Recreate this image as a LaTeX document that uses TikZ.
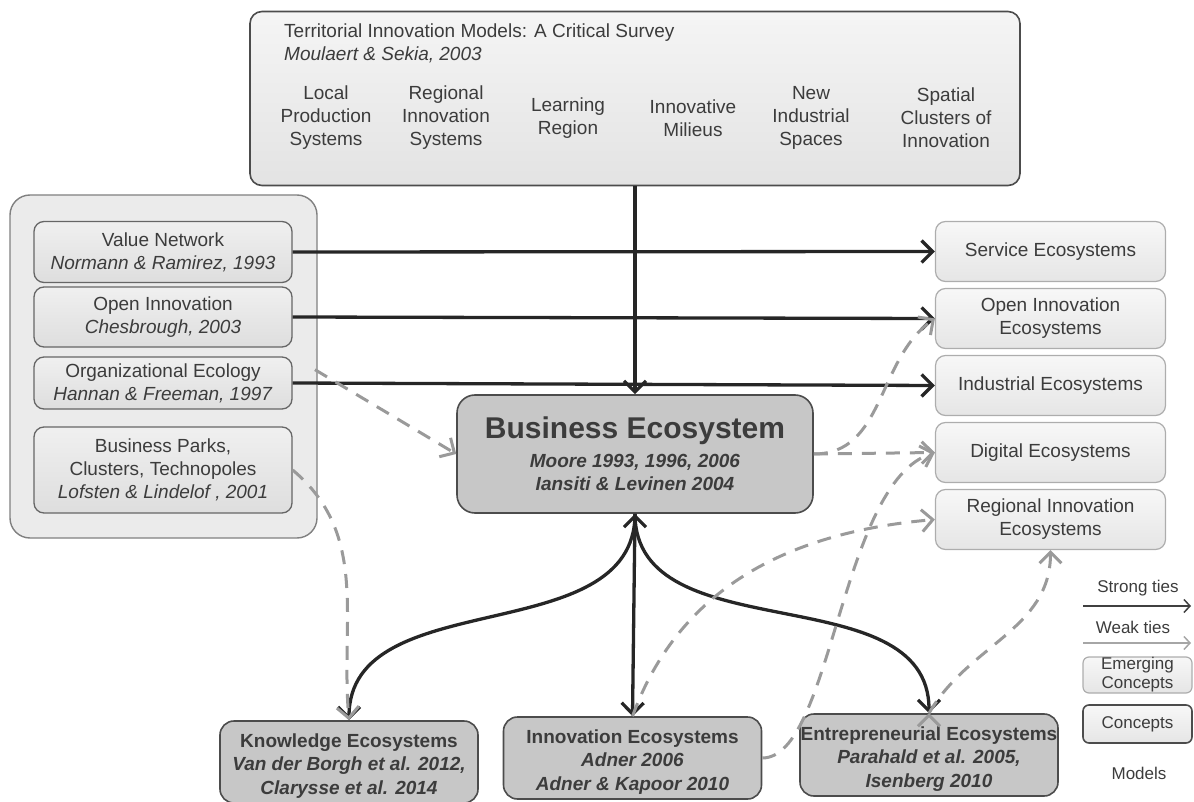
\documentclass[tikz,border=0pt]{standalone}
\usepackage{fontspec}
\setmainfont{Liberation Sans}
\usepackage{tikz}
\usetikzlibrary{arrows.meta, shapes}
\definecolor{txtgray}{HTML}{3C3C3C}
\definecolor{tiegray}{HTML}{9A9A9A}
\definecolor{tieblack}{HTML}{262626}
\tikzset{model/.style={rectangle, draw=black!70, top color=black!4, bottom color=black!11, rounded corners=12pt, line width=1.6pt}}
\tikzset{group/.style={rectangle, draw=black!50, fill=black!8, rounded corners=20pt, line width=1.4pt}}
\tikzset{theory/.style={rectangle, draw=black!60, top color=black!6, bottom color=black!13, rounded corners=10pt, line width=1.3pt, minimum width=258pt, align=center, inner sep=0pt}}
\tikzset{emerging/.style={rectangle, draw=black!32, top color=black!3, bottom color=black!10, rounded corners=10pt, line width=1.2pt, minimum width=230pt, minimum height=60pt, align=center, inner sep=0pt}}
\tikzset{concept/.style={rectangle, draw=black!70, fill=black!22, rounded corners=14pt, line width=1.6pt, minimum width=258pt, minimum height=82pt, align=center, inner sep=0pt, font=\fontsize{19}{23.5}\selectfont\bfseries}}
\tikzset{column/.style={align=center, inner sep=0pt}}
\tikzset{strong/.style={->, line width=3.3pt, draw=tieblack}}
\tikzset{weak/.style={->, line width=3pt, draw=tiegray, dash pattern=on 14pt off 10pt}}

\begin{document}
\begin{tikzpicture}[
	x=1pt, y=-1pt,
	>={Straight Barb[length=11pt,width=22pt]},
	node distance=67pt,
	every node/.style={text=txtgray, font=\fontsize{19}{23}\selectfont},
	]
	\useasboundingbox (0,0) rectangle (1194,802);

	% territorial innovation models
	\node [model, minimum width=770pt, minimum height=174pt] (TIM) at (635,98.5) {};
	\node [column, anchor=west, align=left] (TIMhead) at (284,43) {Territorial Innovation Models: A Critical Survey\\\textit{Moulaert \& Sekia, 2003}};
	\node [column] (LPS) at (326,118) {Local\\Production\\Systems};
	\node [column] (RIS) at (446,118) {Regional\\Innovation\\Systems};
	\node [column] (LR)  at (568,118) {Learning\\Region};
	\node [column] (IM)  at (693,118) {Innovative\\Milieus};
	\node [column] (NIS) at (811,118) {New\\Industrial\\Spaces};
	\node [column] (SCI) at (946,118) {Spatial\\Clusters of\\Innovation};

	% models on the left
	\node [group, minimum width=307pt, minimum height=343pt] (LEFT) at (163.5,366.5) {};
	\node [theory, minimum height=61pt] (VN) at (163,252) {Value Network\\\textit{Normann \& Ramirez, 1993}};
	\node [theory, minimum height=60pt] (OI) at (163,317) {Open Innovation\\\textit{Chesbrough, 2003}};
	\node [theory, minimum height=52pt] (OE) at (163,383) {Organizational Ecology\\\textit{Hannan \& Freeman, 1997}};
	\node [theory, minimum height=86pt] (BP) at (163,470) {Business Parks,\\Clusters, Technopoles\\\textit{Lofsten \& Lindelof , 2001}};

	\node [concept, minimum width=356pt, minimum height=118pt, rounded corners=18pt] (BE) at (635,454) {{\fontsize{30}{32}\selectfont Business Ecosystem}\\[5pt]\textit{Moore 1993, 1996, 2006}\\\textit{Iansiti \& Levinen 2004}};

	% emerging concepts
	\node [emerging] (SE) at (1050.5,251.5) {Service Ecosystems};
	\node [emerging] (OIE) [below of=SE] {Open Innovation\\Ecosystems};
	\node [emerging] (IndE) [below of=OIE] {Industrial Ecosystems};
	\node [emerging] (DE) [below of=IndE] {Digital Ecosystems};
	\node [emerging] (RIE) [below of=DE] {Regional Innovation\\Ecosystems};

	\node [concept, text height=68pt] (KE) at (349,762) {Knowledge Ecosystems\\\textit{Van der Borgh et al. 2012,}\\\textit{Clarysse et al. 2014}};
	\node [concept, text height=68pt] (IE) at (632.5,758) {Innovation Ecosystems\\\textit{Adner 2006}\\\textit{Adner \& Kapoor 2010}};
	\node [concept, text height=68pt] (EE) at (929,755) {Entrepreneurial Ecosystems\\\textit{Parahald et al. 2005,}\\\textit{Isenberg 2010}};

	\path[strong]
	(TIM) edge (BE)
	(VN.east) edge (SE.west)
	(OI.east) edge (OIE.west)
	(OE.east) edge (IndE.west)
	(BE.south) edge[out=-90,in=90] (KE.north)
	(BE.south) edge (IE.north)
	(BE.south) edge[out=-90,in=90] (EE.north);

	\path[weak]
	(OE.north east) edge[shorten <=26pt] (BE.west)
	(BP.east) edge[out=-40,in=95] (KE.north)
	(BE.east) edge (DE.west)
	(BE.east) edge[out=0,in=215] (OIE.west)
	(IE.north) edge[out=70,in=185] (RIE.west)
	(EE.north) edge[out=60,in=-90] (RIE.south);
	\draw[weak] (IE.east) .. controls +(70,0) and +(-95,30) .. (DE.west);

	% legend
	\node [font=\fontsize{17}{20}\selectfont] (strongtxt) at (1138,588) {Strong ties};
	\coordinate (s1) at (1083,606);
	\coordinate (s2) at (1191,606);
	\node [font=\fontsize{17}{20}\selectfont] (weaktxt) at (1133,627) {Weak ties};
	\coordinate (w1) at (1083,643);
	\coordinate (w2) at (1191,643);
	\draw[strong, line width=1.5pt, draw=black!75, >={Straight Barb[length=6pt,width=13pt]}] (s1) -- (s2);
	\draw[->, line width=1.5pt, draw=black!35, >={Straight Barb[length=6pt,width=13pt]}] (w1) -- (w2);
	\node [emerging, minimum width=109pt, minimum height=36pt, rounded corners=6pt, font=\fontsize{17}{19}\selectfont] (EMC) at (1137.5,675) {Emerging\\Concepts};
	\node [emerging, draw=black!70, line width=1.6pt, minimum width=109pt, minimum height=38pt, rounded corners=6pt, font=\fontsize{17}{20}\selectfont] (CON) at (1137.5,724) {Concepts};
	\node [font=\fontsize{17}{20}\selectfont] (MOD) at (1139,773) {Models};
\end{tikzpicture}
\end{document}
